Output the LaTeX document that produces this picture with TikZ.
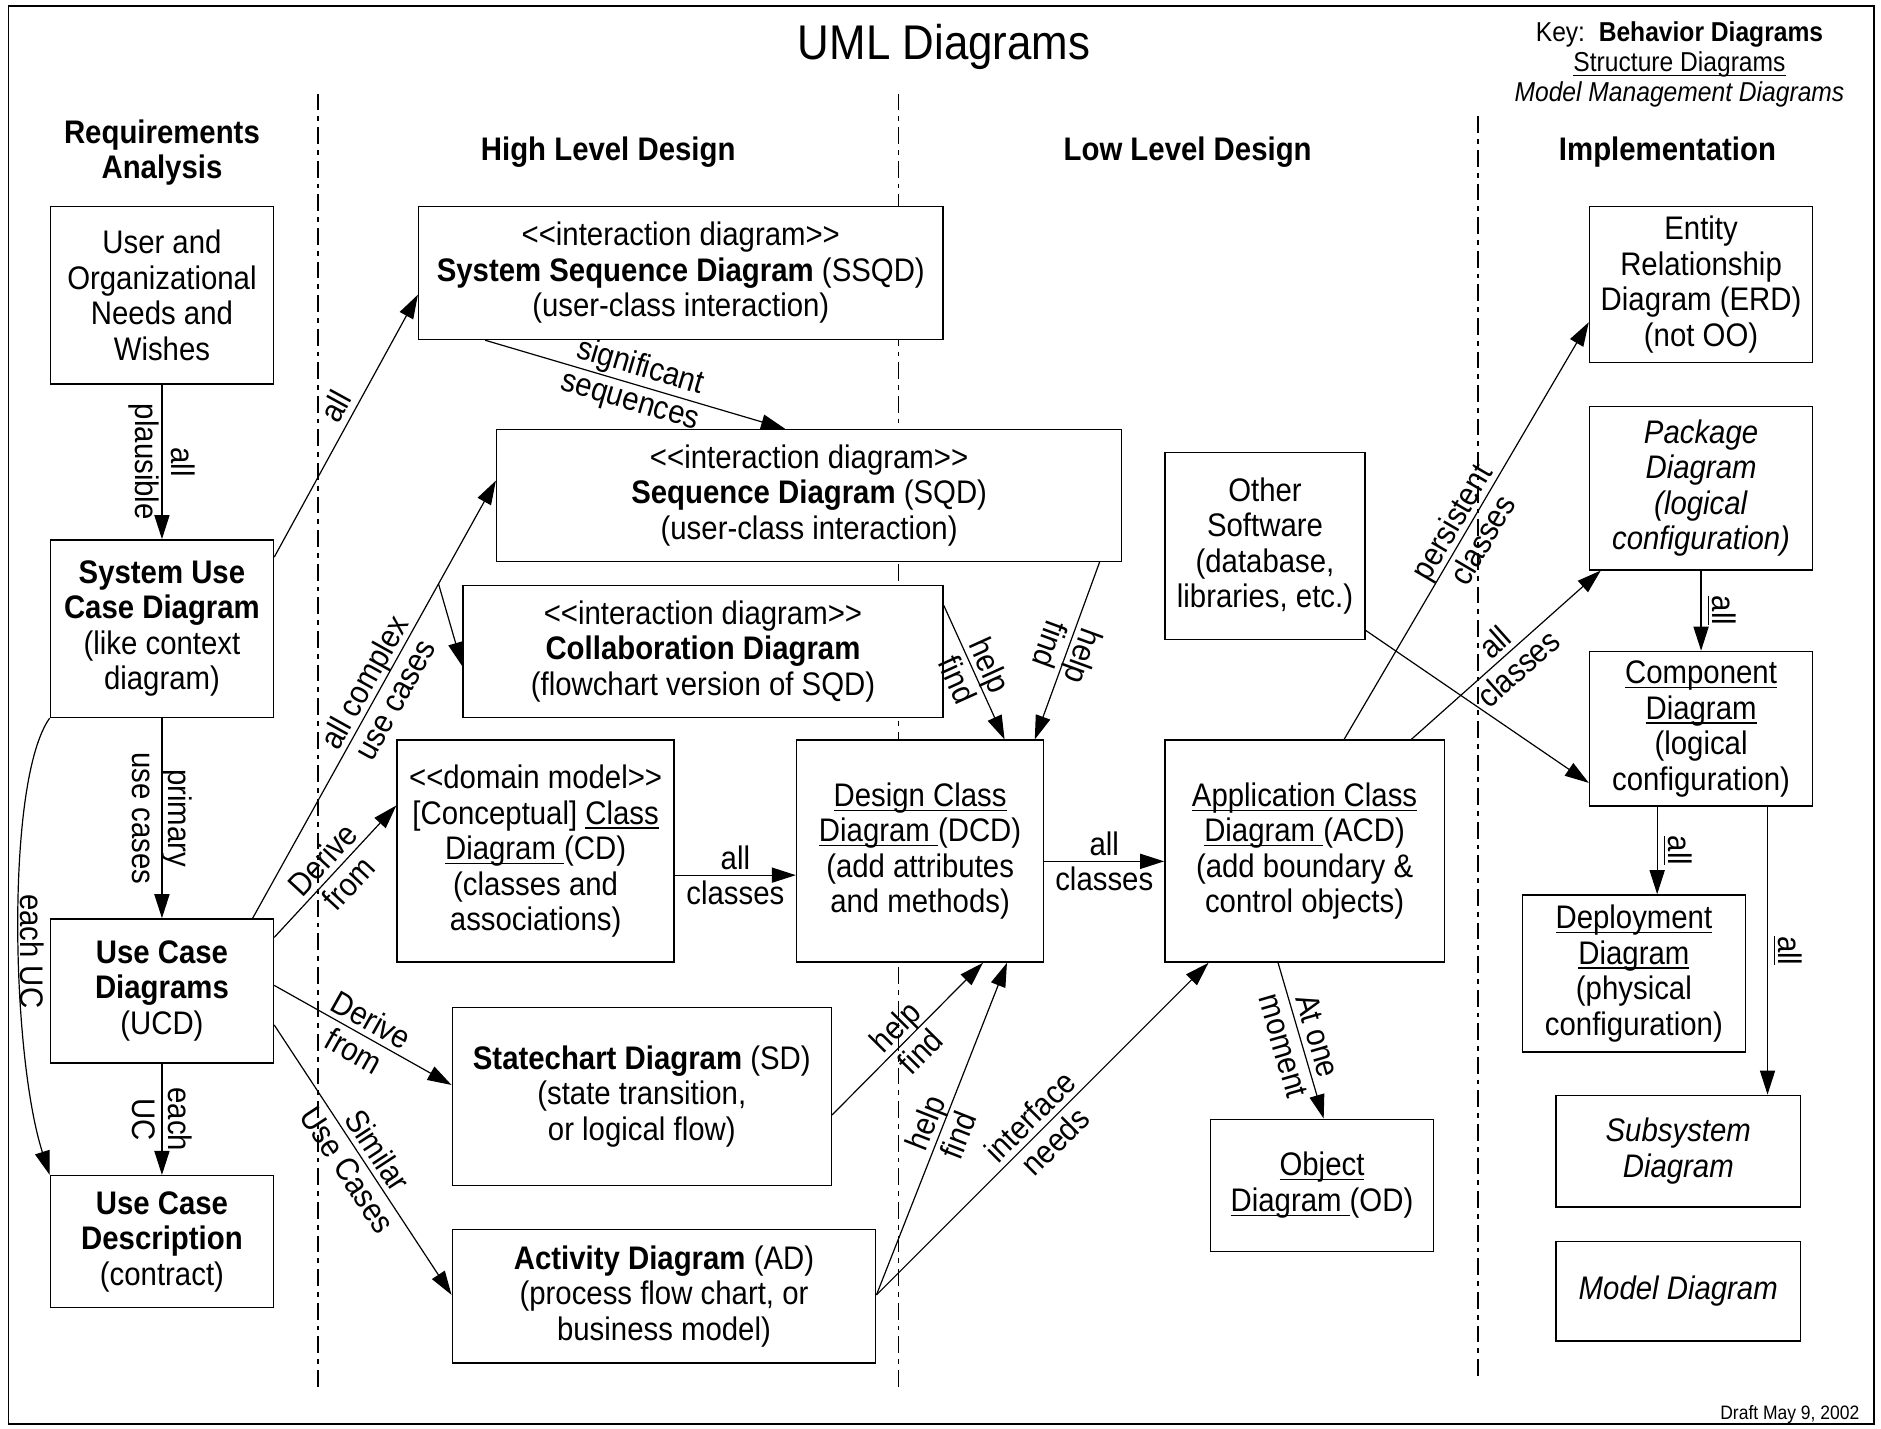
\documentclass[tikz,border=0pt]{standalone}
\usepackage{fontspec}
\newfontfamily\umlfont[FakeStretch=0.9]{Liberation Sans}
\usetikzlibrary{arrows.meta,calc}
\newcommand\myul[1]{\setbox0\hbox{#1}\rlap{\rule[-1.9pt]{\wd0}{0.55pt}}\box0}
\tikzset{
  txt/.style={font=\umlfont\fontsize{13.6}{14.8}\selectfont},
  box/.style={txt, draw, line width=0.6pt, fill=white, inner sep=0pt, align=center},
  conn/.style={line width=0.5pt, -{Triangle[length=10pt,width=6.3pt]}},
  lbl/.style={txt, inner sep=0pt, align=center},
  sidelbl/.style={txt, inner sep=2.5pt, anchor=south},
  divider/.style={line width=0.6pt, dash pattern=on 7pt off 2.5pt on 2pt off 2.5pt},
  hdr/.style={align=center, font=\umlfont\bfseries\fontsize{13.6}{14.6}\selectfont},
}
\newcommand\umlbox[6]{%
  \pgfmathsetmacro\bw{(#4-#2)*0.5}\pgfmathsetmacro\bh{(#5-#3)*0.5}%
  \node[box, minimum width=\bw pt, minimum height=\bh pt] (#1) at ({(#2+#4)/2},{(#3+#5)/2}) {#6};}
\begin{document}
\begin{tikzpicture}[x=0.5pt,y=-0.5pt]
\useasboundingbox (0,0) rectangle (1568,1191);
\draw[line width=0.6pt] (7,5) rectangle (1562,1187);

% title, key, footer
\node[font=\umlfont\fontsize{20.3}{24}\selectfont] (title) at (787,39) {UML Diagrams};
\node[align=center, font=\umlfont\fontsize{11.4}{12.5}\selectfont] (key) at (1400,54)
  {Key:\ \ \textbf{Behavior Diagrams}\\\myul{Structure Diagrams}\\\textit{Model Management Diagrams}};
\node[font=\umlfont\fontsize{8.1}{9}\selectfont, anchor=east] (draft) at (1557,1179) {Draft May 9, 2002};

% column headers
\node[hdr] (hreq) at (135,127) {Requirements\\Analysis};
\node[hdr] (hhigh) at (507,127) {High Level Design};
\node[hdr] (hlow) at (990,127) {Low Level Design};
\node[hdr] (himpl) at (1390,127) {Implementation};

% dividers
\draw[divider] (265,78) -- (265,1157);
\draw[divider] (749,78) -- (749,1157);
\draw[divider] (1232,97) -- (1232,1150);

% boxes
\umlbox{user}{42}{172}{228}{320}{User and\\Organizational\\Needs and\\Wishes}
\umlbox{sysuc}{42}{450}{228}{598}{\textbf{System Use}\\\textbf{Case Diagram}\\(like context\\diagram)}
\umlbox{ucd}{42}{766}{228}{886}{\textbf{Use Case}\\\textbf{Diagrams}\\(UCD)}
\umlbox{ucdesc}{42}{980}{228}{1090}{\textbf{Use Case}\\\textbf{Description}\\(contract)}

\umlbox{ssqd}{349}{172}{786}{283}{<<interaction diagram>>\\\textbf{System Sequence Diagram} (SSQD)\\(user-class interaction)}
\umlbox{sqd}{414}{358}{935}{468}{<<interaction diagram>>\\\textbf{Sequence Diagram} (SQD)\\(user-class interaction)}
\umlbox{collab}{386}{488}{786}{598}{<<interaction diagram>>\\\textbf{Collaboration Diagram}\\(flowchart version of SQD)}
\umlbox{cd}{331}{617}{562}{802}{<<domain model>>\\{[Conceptual] \myul{Class}}\\\myul{Diagram\ }(CD)\\(classes and\\associations)}
\umlbox{dcd}{664}{617}{870}{802}{\myul{Design Class}\\\myul{Diagram\ }(DCD)\\(add attributes\\and methods)}
\umlbox{sd}{377}{840}{693}{988}{\textbf{Statechart Diagram} (SD)\\(state transition,\\or logical flow)}
\umlbox{ad}{377}{1025}{730}{1136}{\textbf{Activity Diagram} (AD)\\(process flow chart, or\\business model)}

\umlbox{other}{971}{377}{1138}{533}{Other\\Software\\(database,\\libraries, etc.)}
\umlbox{acd}{971}{617}{1204}{802}{\myul{Application Class}\\\myul{Diagram\ }(ACD)\\(add boundary \&\\control objects)}
\umlbox{od}{1009}{933}{1195}{1043}{\myul{Object}\\\myul{Diagram\ }(OD)}

\umlbox{erd}{1325}{172}{1511}{302}{Entity\\Relationship\\Diagram (ERD)\\(not OO)}
\umlbox{pkg}{1325}{339}{1511}{475}{\textit{Package}\\\textit{Diagram}\\\textit{(logical}\\\textit{configuration)}}
\umlbox{comp}{1325}{543}{1511}{672}{\myul{Component}\\\myul{Diagram}\\(logical\\configuration)}
\umlbox{deploy}{1269}{746}{1455}{877}{\myul{Deployment}\\\myul{Diagram}\\(physical\\configuration)}
\umlbox{subsys}{1297}{913}{1501}{1006}{\textit{Subsystem}\\\textit{Diagram}}
\umlbox{model}{1297}{1035}{1501}{1118}{\textit{Model Diagram}}

% requirements column connectors
\draw[conn] (user.south) -- node[lbl, midway, rotate=-90] {all\\plausible} (sysuc.north);
\draw[conn] (sysuc.south) -- node[lbl, midway, rotate=-90] {primary\\use cases} (ucd.north);
\draw[conn] (ucd.south) -- node[lbl, midway, rotate=-90] {each\\UC} (ucdesc.north);
\draw[conn] (sysuc.south west) .. controls ($(sysuc.south west)+(-37,52)$) and ($(ucdesc.north west)+(-32,-100)$) .. (ucdesc.north west);
\node[lbl, rotate=-90] (eachuc) at (27,793) {each UC};

% to high level design
\draw[conn] ($(sysuc.north east)+(0,15)$) -- node[sidelbl, pos=0.54, sloped, inner sep=2.5pt] {all} ($(ssqd.south west)+(0,-38)$);
\draw[conn] ($(ssqd.south west)+(56,0)$) -- node[lbl, midway, sloped] {significant\\sequences} ($(sqd.north west)+(241,0)$);
\draw[conn] ($(ucd.north east)+(-18,0)$) -- node[lbl, pos=0.52, sloped] {all complex\\use cases} coordinate[pos=0.764] (br) ($(sqd.south west)+(0,-68)$);
\draw[conn] (br) -- ($(collab.north west)+(0,68)$);
\draw[conn] ($(ucd.north east)+(0,16)$) -- node[lbl, midway, sloped] {Derive\\from} ($(cd.north west)+(0,55)$);
\draw[conn] ($(ucd.north east)+(0,56)$) -- node[lbl, midway, sloped] {Derive\\from} ($(sd.north west)+(0,65)$);
\draw[conn] ($(ucd.north east)+(0,89)$) -- node[lbl, midway, sloped] {Similar\\Use Cases} ($(ad.north west)+(0,55)$);

% to low level design
\draw[conn] ($(cd.east)+(0,20)$) -- node[lbl, midway] {all\\classes} ($(dcd.west)+(0,20)$);
\draw[conn] ($(dcd.east)+(0,8.5)$) -- node[lbl, midway] {all\\classes} ($(acd.west)+(0,8.5)$);
\draw[conn] ($(collab.north east)+(0,17)$) -- node[lbl, midway, sloped] {help\\find} ($(dcd.north west)+(174,0)$);
\draw[conn] ($(sqd.south east)+(-19,0)$) -- node[lbl, midway, sloped, allow upside down] {help\\find} ($(dcd.north east)+(-8,0)$);
\draw[conn] ($(sd.north east)+(0,90)$) -- node[lbl, midway, sloped] {help\\find} ($(dcd.south west)+(156,0)$);
\draw[conn] ($(ad.north east)+(0,55)$) -- node[lbl, midway, sloped] {help\\find} ($(dcd.south west)+(176,0)$);
\draw[conn] ($(ad.north east)+(0,55)$) -- node[lbl, midway, sloped] {interface\\needs} ($(acd.south west)+(37,0)$);
\draw[conn] ($(acd.south west)+(95,0)$) -- node[lbl, midway, sloped] {At one\\moment} ($(od.north west)+(95,0)$);

% to implementation
\draw[conn] ($(acd.north west)+(150,0)$) -- node[lbl, midway, sloped] {persistent\\classes} ($(erd.south west)+(0,-34)$);
\draw[conn] ($(acd.north west)+(206,0)$) -- node[lbl, midway, sloped] {all\\classes} ($(pkg.south west)+(10,0)$);
\draw[conn] ($(other.south east)+(0,-8)$) -- ($(comp.south west)+(0,-20)$);
\draw[conn] (pkg.south) -- node[sidelbl, midway, rotate=-90] {\myul{all}} (comp.north);
\draw[conn] ($(comp.south west)+(57,0)$) -- node[sidelbl, midway, rotate=-90] {\myul{all}} ($(deploy.north west)+(113,0)$);
\draw[conn] ($(comp.south west)+(149,0)$) -- node[sidelbl, midway, rotate=-90] {\myul{all}} ($(subsys.north west)+(177,0)$);
\end{tikzpicture}
\end{document}
